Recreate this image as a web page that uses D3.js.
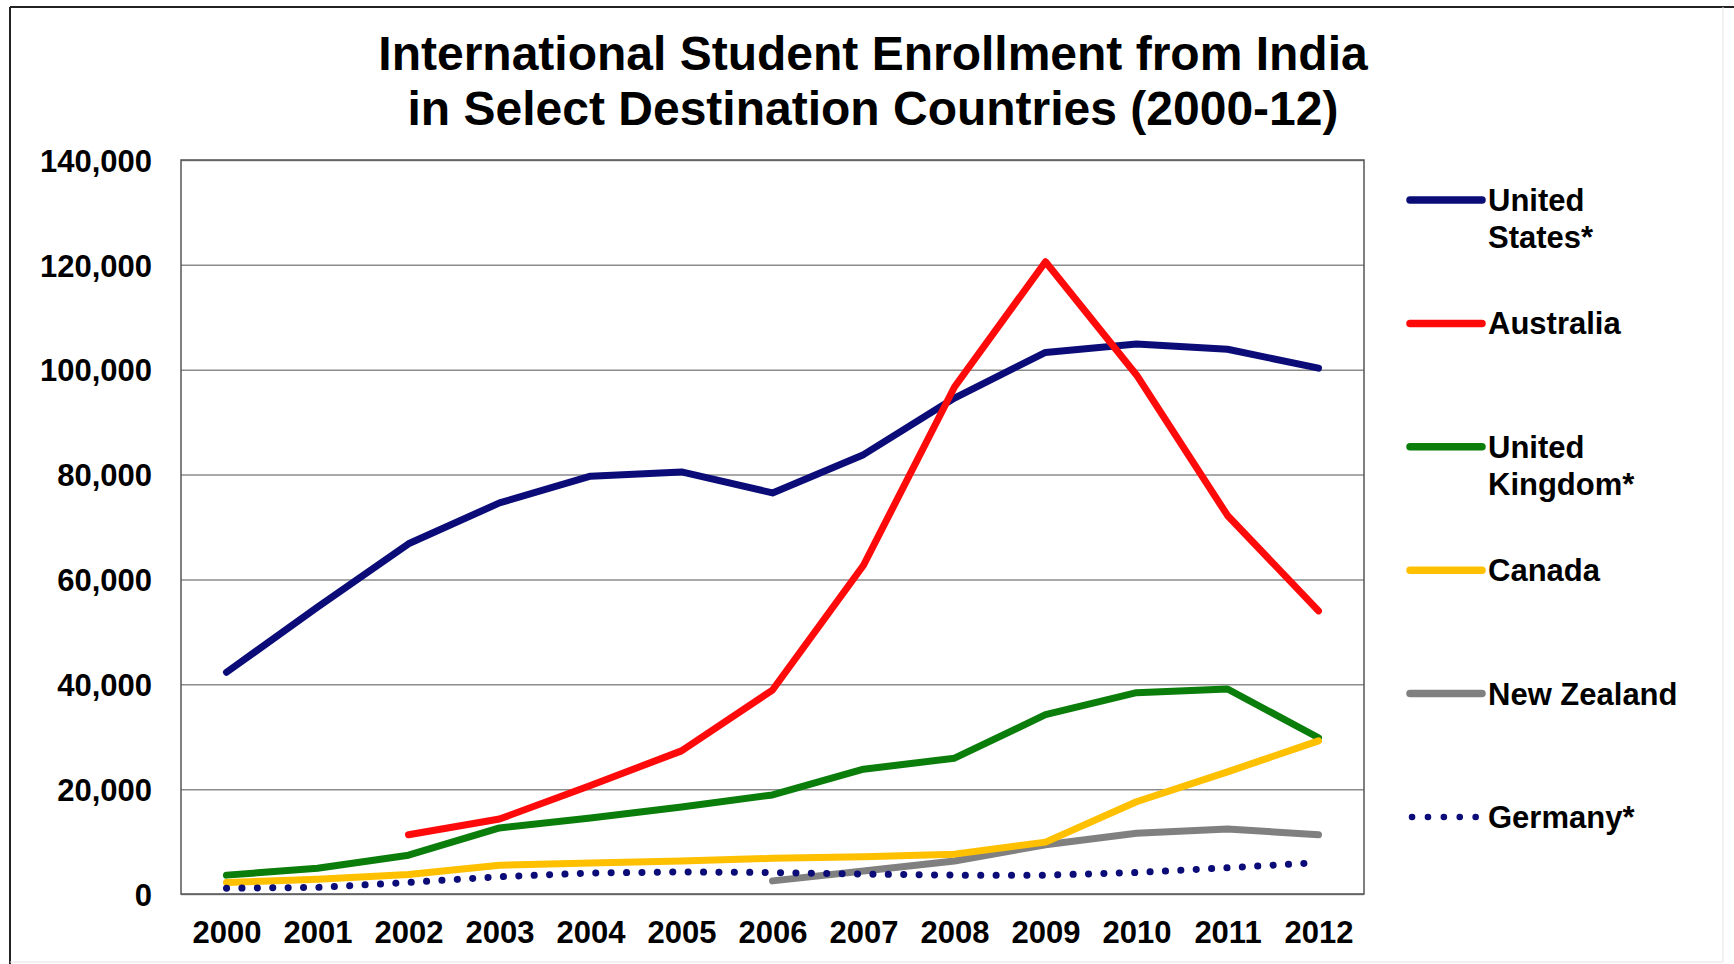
<!DOCTYPE html>
<html>
<head>
<meta charset="utf-8">
<script src="https://cdn.jsdelivr.net/npm/d3@7"></script>
<style>
  body { margin: 0; background: #fff; }
  svg { display: block; font-family: "Liberation Sans", Arial, sans-serif; }
</style>
</head>
<body>
<div id="chart"></div>
<script>
// Years on the x axis
const years = ["2000", "2001", "2002", "2003", "2004", "2005", "2006", "2007", "2008", "2009", "2010", "2011", "2012"];

// Enrollment of Indian students, per destination (null = no data)
const unitedStates = [42300, 54700, 66800, 74600, 79700, 80500, 76500, 83800, 94600, 103300, 104900, 103900, 100300];
const australia = [null, null, 11300, 14300, 20700, 27300, 38900, 62700, 96700, 120600, 99000, 72200, 54000];
const unitedKingdom = [3600, 4900, 7400, 12600, 14500, 16600, 18900, 23800, 25900, 34200, 38400, 39100, 29800];
const canada = [2200, 2800, 3700, 5500, 5900, 6300, 6800, 7100, 7600, 9900, 17600, 23300, 29200];
const newZealand = [null, null, null, null, null, null, 2500, 4400, 6300, 9400, 11600, 12400, 11300];
const germany = [1100, 1250, 2200, 3300, 4000, 4200, 4100, 3800, 3600, 3600, 4100, 5000, 6000];

// Legend labels (line breaks as in the original)
const seriesNames = [["United", "States*"], ["Australia"], ["United", "Kingdom*"], ["Canada"], ["New Zealand"], ["Germany*"]];
const yTicks = [0, 20000, 40000, 60000, 80000, 100000, 120000, 140000];

const series = [
  { name: seriesNames[0], values: unitedStates, color: "#0c0c78", dotted: false },
  { name: seriesNames[1], values: australia, color: "#ff0a0a", dotted: false },
  { name: seriesNames[2], values: unitedKingdom, color: "#0a7d0a", dotted: false },
  { name: seriesNames[3], values: canada, color: "#ffc000", dotted: false },
  { name: seriesNames[4], values: newZealand, color: "#808080", dotted: false },
  { name: seriesNames[5], values: germany, color: "#0c0c78", dotted: true },
];
// draw order (later on top)
const drawOrder = [0, 1, 2, 4, 3, 5];

const W = 1734, H = 964;
const plot = { left: 181, right: 1364, top: 160, bottom: 894 };

const svg = d3.select("#chart").append("svg").attr("width", W).attr("height", H);

// Outer frame
svg.append("line").attr("x1", 10).attr("x2", 10).attr("y1", 7).attr("y2", H).attr("stroke", "#222").attr("stroke-width", 2);
svg.append("line").attr("x1", 10).attr("x2", W).attr("y1", 7).attr("y2", 7).attr("stroke", "#222").attr("stroke-width", 2);
svg.append("line").attr("x1", 1723).attr("x2", 1723).attr("y1", 7).attr("y2", 962).attr("stroke", "#e4e4e4").attr("stroke-width", 1);
svg.append("line").attr("x1", 10).attr("x2", 1723).attr("y1", 962).attr("y2", 962).attr("stroke", "#e4e4e4").attr("stroke-width", 1);

// Title
const title = svg.append("text")
  .attr("text-anchor", "middle")
  .attr("font-size", "48px")
  .attr("font-weight", "bold")
  .attr("fill", "#000");
title.append("tspan").attr("x", 873).attr("y", 70).text("International Student Enrollment from India");
title.append("tspan").attr("x", 873).attr("y", 125).text("in Select Destination Countries (2000-12)");

// Scales
const x = d3.scalePoint().domain(years).range([plot.left, plot.right]).padding(0.5);
const y = d3.scaleLinear().domain([0, 140000]).range([plot.bottom, plot.top]);

// Gridlines
svg.append("g")
  .attr("transform", `translate(${plot.left},0)`)
  .call(d3.axisLeft(y).tickValues(yTicks).tickSize(-(plot.right - plot.left)).tickFormat(""))
  .call((g) => g.select(".domain").remove())
  .call((g) => g.selectAll("line").attr("stroke", "#8c8c8c").attr("stroke-width", 1.5));

// Plot border
svg.append("rect")
  .attr("x", plot.left).attr("y", plot.top)
  .attr("width", plot.right - plot.left).attr("height", plot.bottom - plot.top)
  .attr("fill", "none").attr("stroke", "#555").attr("stroke-width", 1.5);

// Y axis labels
svg.append("g")
  .attr("transform", `translate(${plot.left - 29},0)`)
  .call(d3.axisLeft(y).tickValues(yTicks).tickSize(0).tickPadding(0).tickFormat(d3.format(",")))
  .call((g) => g.select(".domain").remove())
  .call((g) => g.selectAll("text")
    .attr("font-family", "'Liberation Sans', Arial, sans-serif")
    .attr("font-size", "31px").attr("font-weight", "bold").attr("fill", "#000")
    .attr("dy", "0.36em"));

// X axis labels
svg.append("g")
  .attr("transform", `translate(0,${plot.bottom})`)
  .call(d3.axisBottom(x).tickSize(0).tickPadding(0))
  .call((g) => g.select(".domain").remove())
  .call((g) => g.selectAll("text")
    .attr("font-family", "'Liberation Sans', Arial, sans-serif")
    .attr("font-size", "31px").attr("font-weight", "bold").attr("fill", "#000")
    .attr("y", 49).attr("dy", 0));

// Lines
const line = d3.line()
  .defined((d) => d != null)
  .x((d, i) => x(years[i]))
  .y((d) => y(d));

drawOrder.forEach((k) => {
  const s = series[k];
  const path = svg.append("path")
    .datum(s.values)
    .attr("d", line)
    .attr("fill", "none")
    .attr("stroke", s.color)
    .attr("stroke-width", 7)
    .attr("stroke-linejoin", "round")
    .attr("stroke-linecap", "round");
  if (s.dotted) path.attr("stroke-dasharray", "0.1 15.3");
});

// Legend
const legend = svg.append("g").attr("transform", "translate(1410,200)");
const legendStep = 123.4;

series.forEach((s, i) => {
  const item = legend.append("g").attr("transform", `translate(0,${i * legendStep})`);
  const sample = item.append("line")
    .attr("x1", s.dotted ? 2 : 0).attr("x2", s.dotted ? 66 : 72)
    .attr("y1", 0).attr("y2", 0)
    .attr("stroke", s.color)
    .attr("stroke-width", s.dotted ? 6.5 : 7.5)
    .attr("stroke-linecap", "round");
  if (s.dotted) sample.attr("stroke-dasharray", "0.1 15.8");

  item.append("text")
    .attr("x", 78)
    .attr("font-size", "31px")
    .attr("font-weight", "bold")
    .attr("fill", "#000")
    .selectAll("tspan")
    .data(s.name)
    .enter()
    .append("tspan")
    .attr("x", 78)
    .attr("y", (d, j) => 11 + j * 37)
    .text((d) => d);
});
</script>
</body>
</html>
